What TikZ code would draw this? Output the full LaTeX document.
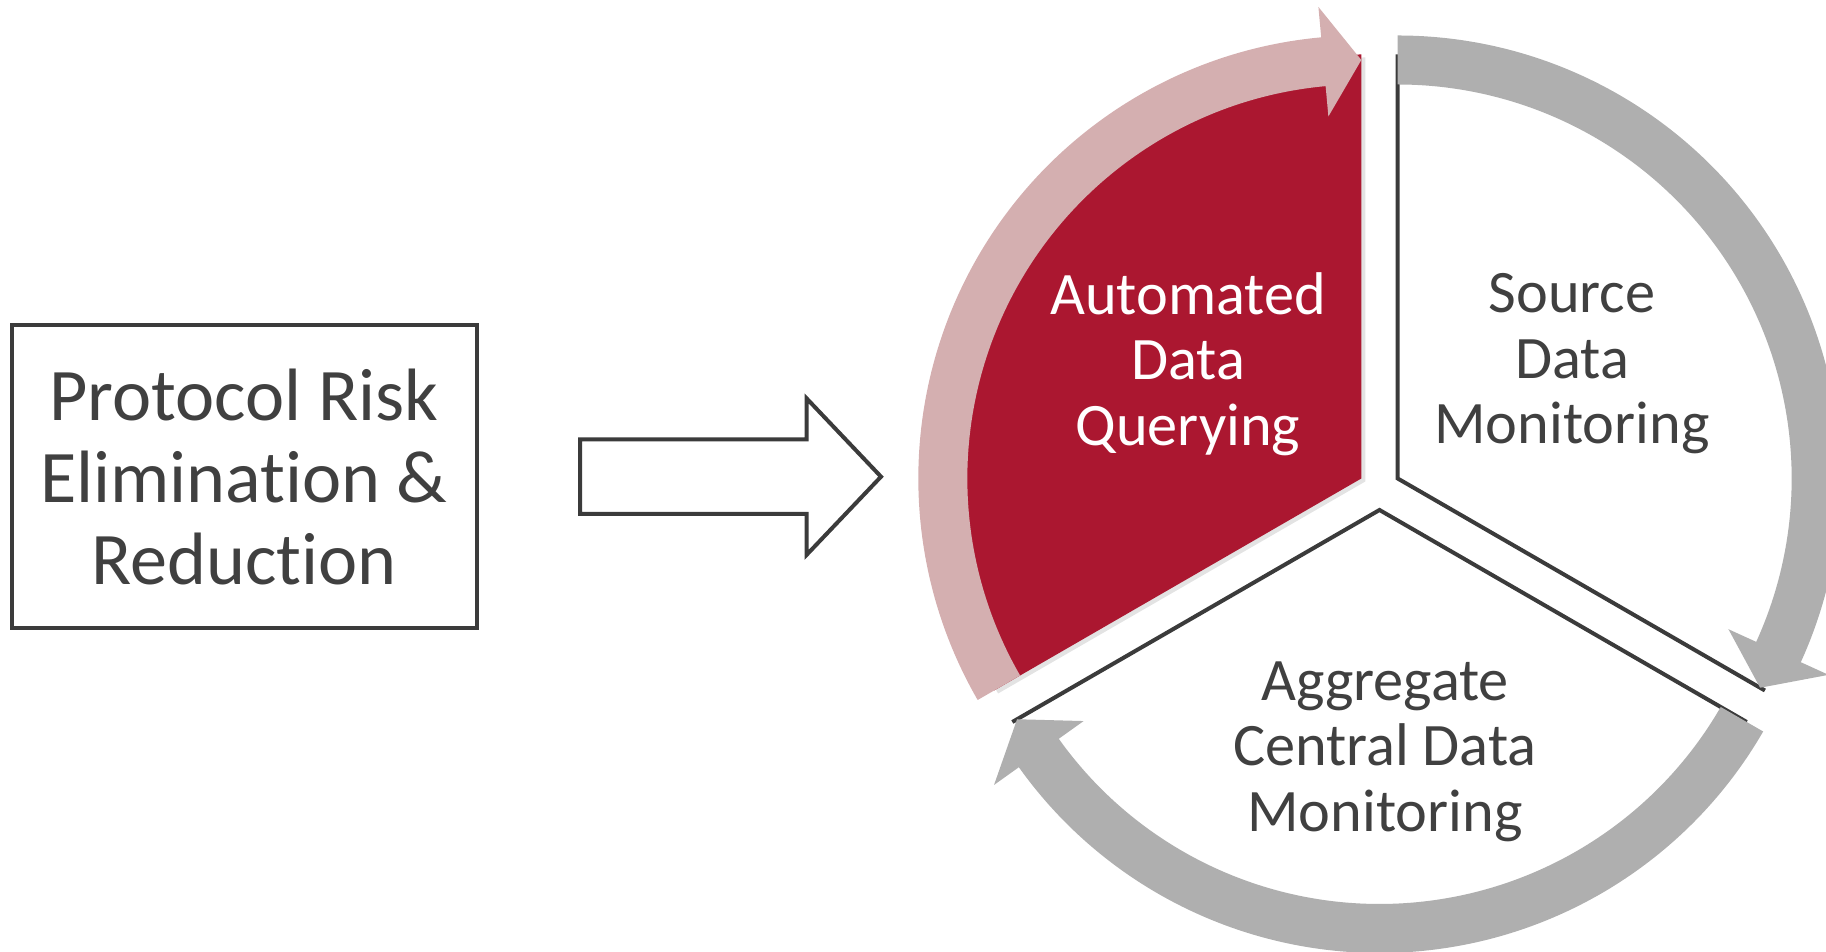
\documentclass[tikz,border=0pt]{standalone}
\usepackage{fontspec}
\setmainfont{Carlito}[Ligatures=NoCommon]
\definecolor{queryred}{HTML}{AB1730}
\definecolor{querypink}{HTML}{D4AFB0}
\definecolor{ringgrey}{HTML}{AFAFAF}
\definecolor{edgegrey}{HTML}{3B3B3B}
\definecolor{labelgrey}{HTML}{404040}
\definecolor{shadegrey}{HTML}{E3E3E3}

% ring geometry of the cycle (all in pt)
\def\RingIn{394}
\def\RingOut{443}
\def\RingMid{418.5}
\def\HeadIn{363.5}
\def\HeadOut{473.5}
\def\SectorR{424}

% curved ring arrow: #1 vertex, #2 start angle, #3 head base angle, #4 tip angle, #5 colour
\newcommand\cyclearrow[5]{%
  \fill[#5] ([shift={(#2:\RingOut)}]#1) arc[start angle=#2, end angle=#3, radius=\RingOut]
    -- ([shift={(#3:\HeadOut)}]#1) -- ([shift={(#4:\RingMid)}]#1)
    -- ([shift={(#3:\HeadIn)}]#1) -- ([shift={(#3:\RingIn)}]#1)
    arc[start angle=#3, end angle=#2, radius=\RingIn] -- cycle;}

\begin{document}
\begin{tikzpicture}[x=1pt, y=1pt,
  outline/.style={draw=edgegrey, line width=4pt, line join=miter},
  cyclelabel/.style={align=center, inner sep=0pt, text=labelgrey,
    font=\fontsize{60.3}{65.6}\selectfont},
  riskbox/.style={outline, minimum width=465pt, minimum height=302.5pt,
    inner sep=0pt, align=center, text=labelgrey,
    font=\fontsize{74.2}{82}\selectfont}]
\useasboundingbox (0,0) rectangle (1826,952);

% left box and block arrow
\node[riskbox] (risk) at (244,475.25) {Protocol Risk\\Elimination \&\\Reduction};
\draw[outline, fill=white] (580,512.7) -- (806.5,512.7) -- (806.5,553.7) -- (881,475.3)
  -- (806.5,397) -- (806.5,438) -- (580,438) -- cycle;

% cycle centre and the three exploded sector vertices
\coordinate (hub) at (1379.5,463);
\path (hub) ++(150:21) coordinate (vq);
\path (hub) ++(30:21) coordinate (vs);
\path (hub) ++(270:21) coordinate (vb);

% highlighted sector with its soft shadow
\fill[shadegrey] ([shift={(4,-3)}]vq) -- ++(90:\SectorR)
  arc[start angle=90, end angle=210, radius=\SectorR] -- cycle;
\fill[queryred] (vq) -- ++(90:\SectorR)
  arc[start angle=90, end angle=210, radius=\SectorR] -- cycle;

% outlined sectors
\fill[white] (vs) -- ++(90:\SectorR) arc[start angle=90, end angle=-30, radius=\SectorR] -- cycle;
\draw[outline] ([shift={(90:\SectorR)}]vs) -- (vs) -- ([shift={(-30:\SectorR)}]vs);
\fill[white] (vb) -- ++(210:\SectorR) arc[start angle=210, end angle=330, radius=\SectorR] -- cycle;
\draw[outline] ([shift={(210:\SectorR)}]vb) -- (vb) -- ([shift={(330:\SectorR)}]vb);

% ring arrows
\cyclearrow{vq}{210}{95.2}{90}{querypink}
\cyclearrow{vs}{90}{-24.5}{-30}{ringgrey}
\cyclearrow{vb}{330}{215.5}{210}{ringgrey}

% sector labels
\node[cyclelabel, text=white] (querying) at (1188,588) {Automated\\Data\\Querying};
\node[cyclelabel] (sourcedm) at (1572,588) {Source\\Data\\Monitoring};
\node[cyclelabel] (centraldm) at (1385,200.5) {Aggregate\\Central Data\\Monitoring};
\end{tikzpicture}
\end{document}
